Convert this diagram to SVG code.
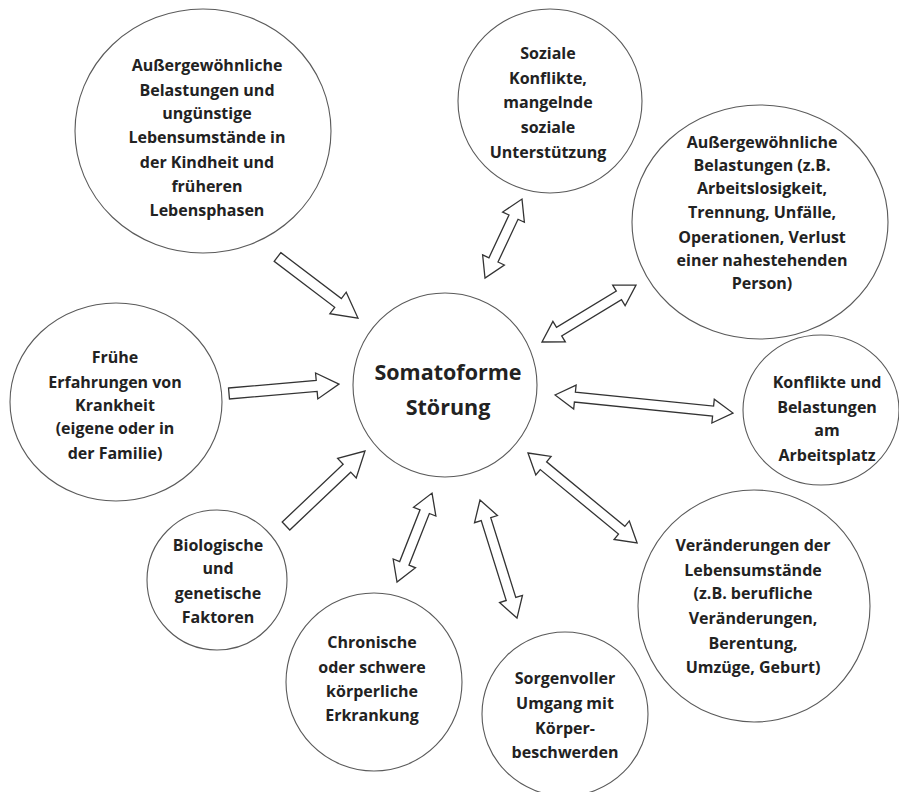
<svg xmlns="http://www.w3.org/2000/svg" width="899" height="792" viewBox="0 0 899 792">
<style>
.n{fill:#fff;stroke:#5a5a5a;stroke-width:1.1}
.t{font-family:"Open Sans","Liberation Sans",sans-serif;font-weight:700;font-size:16px;fill:#222;text-anchor:middle}
.big{font-size:21.5px}
.a{fill:#fff;stroke:#333;stroke-width:1.3;stroke-linejoin:miter}
</style>
<rect width="899" height="792" fill="#fff"/>
<g id="connectors">
<polygon class="a" transform="translate(277.5,257) rotate(37.2)" points="0,-5.5 76,-5.5 76,-13.5 101,0 76,13.5 76,5.5 0,5.5"/>
<polygon class="a" transform="translate(229,393.5) rotate(-4.9)" points="0,-5.5 88,-5.5 88,-13 110.4,0 88,13 88,5.5 0,5.5"/>
<polygon class="a" transform="translate(286,526) rotate(-43.5)" points="0,-5.5 84,-5.5 84,-13.5 108.9,0 84,13.5 84,5.5 0,5.5"/>
<polygon class="a" transform="translate(397,582) rotate(-68.5)" points="0,0 20,-12 20,-5 75.6,-5 75.6,-12 95.6,0 75.6,12 75.6,5 20,5 20,12"/>
<polygon class="a" transform="translate(480,500) rotate(72.6)" points="0,0 20,-12 20,-5 103.7,-5 103.7,-12 123.7,0 103.7,12 103.7,5 20,5 20,12"/>
<polygon class="a" transform="translate(528,453) rotate(39.5)" points="0,0 20,-12 20,-5 121.4,-5 121.4,-12 141.4,0 121.4,12 121.4,5 20,5 20,12"/>
<polygon class="a" transform="translate(555,395) rotate(5.8)" points="0,0 20,-12 20,-5 158.9,-5 158.9,-12 178.9,0 158.9,12 158.9,5 20,5 20,12"/>
<polygon class="a" transform="translate(542,342) rotate(-31.2)" points="0,0 20,-12 20,-5 89.9,-5 89.9,-12 109.9,0 89.9,12 89.9,5 20,5 20,12"/>
<polygon class="a" transform="translate(485,278) rotate(-64.9)" points="0,0 20,-12 20,-5 67.2,-5 67.2,-12 87.2,0 67.2,12 67.2,5 20,5 20,12"/>
</g>
<g id="center">
<circle class="n" cx="445" cy="385" r="92"/>
<text class="t big" x="448" y="380">Somatoforme</text>
<text class="t big" x="448" y="415">Störung</text>
</g>
<g id="kindheit">
<ellipse class="n" cx="203" cy="131" rx="128" ry="122"/>
<text class="t" x="207"><tspan x="207" y="71">Außergewöhnliche</tspan><tspan x="207" y="96">Belastungen und</tspan><tspan x="207" y="119">ungünstige</tspan><tspan x="207" y="143">Lebensumstände in</tspan><tspan x="207" y="168">der Kindheit und</tspan><tspan x="207" y="192">früheren</tspan><tspan x="207" y="216">Lebensphasen</tspan></text>
</g>
<g id="soziale">
<ellipse class="n" cx="550" cy="101" rx="92" ry="92"/>
<text class="t"><tspan x="548" y="59">Soziale</tspan><tspan x="548" y="84">Konflikte,</tspan><tspan x="548" y="108">mangelnde</tspan><tspan x="548" y="133">soziale</tspan><tspan x="548" y="158">Unterstützung</tspan></text>
</g>
<g id="belastungen">
<ellipse class="n" cx="760" cy="222" rx="128" ry="117"/>
<text class="t"><tspan x="762" y="148">Außergewöhnliche</tspan><tspan x="762" y="171">Belastungen (z.B.</tspan><tspan x="762" y="194">Arbeitslosigkeit,</tspan><tspan x="762" y="218">Trennung, Unfälle,</tspan><tspan x="762" y="243">Operationen, Verlust</tspan><tspan x="762" y="266">einer nahestehenden</tspan><tspan x="762" y="289">Person)</tspan></text>
</g>
<g id="arbeitsplatz">
<ellipse class="n" cx="821" cy="410" rx="78" ry="75"/>
<text class="t"><tspan x="827" y="388">Konflikte und</tspan><tspan x="827" y="413">Belastungen</tspan><tspan x="827" y="436">am</tspan><tspan x="827" y="461">Arbeitsplatz</tspan></text>
</g>
<g id="veraenderungen">
<ellipse class="n" cx="754" cy="606" rx="116" ry="116"/>
<text class="t"><tspan x="753" y="551">Veränderungen der</tspan><tspan x="753" y="576">Lebensumstände</tspan><tspan x="753" y="599">(z.B. berufliche</tspan><tspan x="753" y="624">Veränderungen,</tspan><tspan x="753" y="649">Berentung,</tspan><tspan x="753" y="673">Umzüge, Geburt)</tspan></text>
</g>
<g id="sorgenvoller">
<ellipse class="n" cx="565" cy="714" rx="83" ry="82"/>
<text class="t"><tspan x="565" y="684">Sorgenvoller</tspan><tspan x="565" y="709">Umgang mit</tspan><tspan x="565" y="734">Körper-</tspan><tspan x="565" y="758">beschwerden</tspan></text>
</g>
<g id="chronische">
<ellipse class="n" cx="374" cy="682" rx="88" ry="89"/>
<text class="t"><tspan x="372" y="648">Chronische</tspan><tspan x="372" y="673">oder schwere</tspan><tspan x="372" y="697">körperliche</tspan><tspan x="372" y="721">Erkrankung</tspan></text>
</g>
<g id="biologische">
<ellipse class="n" cx="217" cy="580" rx="70" ry="70"/>
<text class="t"><tspan x="218" y="551">Biologische</tspan><tspan x="218" y="574">und</tspan><tspan x="218" y="599">genetische</tspan><tspan x="218" y="623">Faktoren</tspan></text>
</g>
<g id="fruehe">
<ellipse class="n" cx="116" cy="402" rx="106" ry="99"/>
<text class="t"><tspan x="115" y="363">Frühe</tspan><tspan x="115" y="388">Erfahrungen von</tspan><tspan x="115" y="411">Krankheit</tspan><tspan x="115" y="434">(eigene oder in</tspan><tspan x="115" y="459">der Familie)</tspan></text>
</g>
</svg>
